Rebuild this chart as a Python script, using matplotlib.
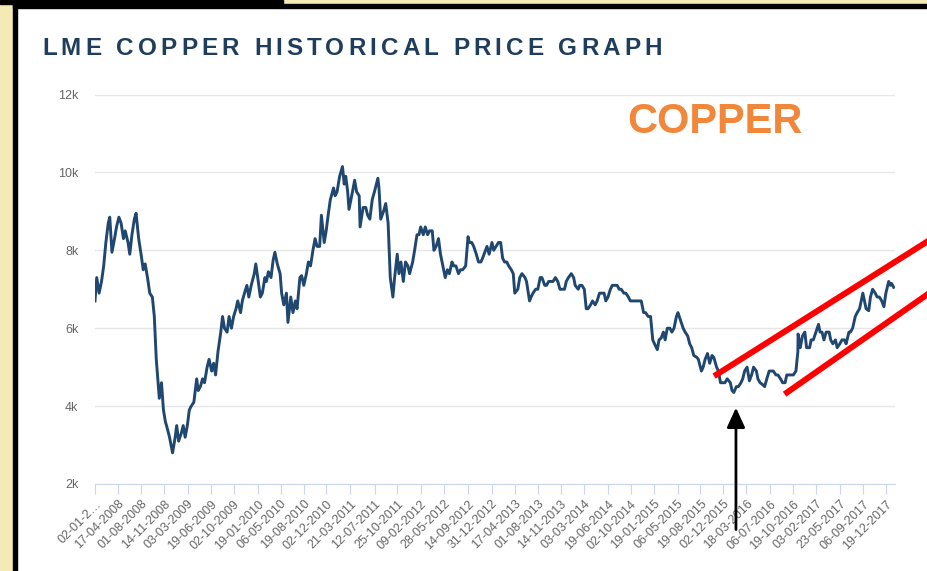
import pandas as pd
import matplotlib.pyplot as plt
from matplotlib.patches import Rectangle
from matplotlib.font_manager import FontProperties

plt.rcParams["font.family"] = ["Liberation Sans", "DejaVu Sans"]

# LME copper, USD/t (about three readings per month)
dates = [
    "2008-01-02", "2008-01-10", "2008-01-21", "2008-02-01", "2008-02-11", "2008-02-21", "2008-03-03", "2008-03-10", "2008-03-20",
    "2008-04-01", "2008-04-10", "2008-04-21", "2008-05-01", "2008-05-12", "2008-05-20", "2008-06-02", "2008-06-10", "2008-06-20",
    "2008-07-01", "2008-07-09", "2008-07-21", "2008-08-01", "2008-08-11", "2008-08-20", "2008-09-01", "2008-09-10", "2008-09-22",
    "2008-10-01", "2008-10-10", "2008-10-24", "2008-11-03", "2008-11-12", "2008-11-21", "2008-12-01", "2008-12-10", "2008-12-24",
    "2009-01-05", "2009-01-12", "2009-01-21", "2009-02-02", "2009-02-11", "2009-02-20", "2009-03-02", "2009-03-11", "2009-03-20",
    "2009-04-01", "2009-04-14", "2009-04-21", "2009-05-01", "2009-05-11", "2009-05-20", "2009-06-01", "2009-06-10", "2009-06-22",
    "2009-07-01", "2009-07-10", "2009-07-21", "2009-08-03", "2009-08-11", "2009-08-20", "2009-09-01", "2009-09-10", "2009-09-21",
    "2009-10-01", "2009-10-12", "2009-10-20", "2009-11-02", "2009-11-10", "2009-11-20", "2009-12-01", "2009-12-10", "2009-12-21",
    "2010-01-04", "2010-01-11", "2010-01-20", "2010-02-01", "2010-02-10", "2010-02-22", "2010-03-01", "2010-03-10", "2010-03-22",
    "2010-04-01", "2010-04-09", "2010-04-20", "2010-05-03", "2010-05-10", "2010-05-20", "2010-06-01", "2010-06-08", "2010-06-21",
    "2010-07-01", "2010-07-12", "2010-07-20", "2010-08-02", "2010-08-10", "2010-08-20", "2010-09-01", "2010-09-10", "2010-09-20",
    "2010-10-01", "2010-10-11", "2010-10-20", "2010-11-01", "2010-11-09", "2010-11-22", "2010-12-01", "2010-12-10", "2010-12-20",
    "2011-01-04", "2011-01-11", "2011-01-20", "2011-02-01", "2011-02-14", "2011-02-22", "2011-03-01", "2011-03-10", "2011-03-16",
    "2011-04-01", "2011-04-11", "2011-04-20", "2011-05-02", "2011-05-06", "2011-05-20", "2011-06-01", "2011-06-10", "2011-06-20",
    "2011-07-01", "2011-07-11", "2011-07-27", "2011-08-01", "2011-08-09", "2011-08-22", "2011-09-01", "2011-09-12", "2011-09-22",
    "2011-10-04", "2011-10-12", "2011-10-24", "2011-11-01", "2011-11-10", "2011-11-21", "2011-12-01", "2011-12-12", "2011-12-20",
    "2012-01-03", "2012-01-12", "2012-01-23", "2012-02-01", "2012-02-09", "2012-02-21", "2012-03-01", "2012-03-12", "2012-03-21",
    "2012-04-02", "2012-04-10", "2012-04-20", "2012-05-01", "2012-05-10", "2012-05-21", "2012-06-01", "2012-06-11", "2012-06-20",
    "2012-07-02", "2012-07-10", "2012-07-20", "2012-08-01", "2012-08-10", "2012-08-20", "2012-09-03", "2012-09-14", "2012-09-20",
    "2012-10-01", "2012-10-10", "2012-10-22", "2012-11-01", "2012-11-12", "2012-11-20", "2012-12-03", "2012-12-10", "2012-12-20",
    "2013-01-02", "2013-01-10", "2013-01-21", "2013-02-01", "2013-02-11", "2013-02-20", "2013-03-01", "2013-03-11", "2013-03-20",
    "2013-04-01", "2013-04-10", "2013-04-17", "2013-05-01", "2013-05-10", "2013-05-20", "2013-06-03", "2013-06-10", "2013-06-24",
    "2013-07-01", "2013-07-10", "2013-07-22", "2013-08-01", "2013-08-12", "2013-08-20", "2013-09-02", "2013-09-10", "2013-09-20",
    "2013-10-01", "2013-10-10", "2013-10-21", "2013-11-01", "2013-11-11", "2013-11-20", "2013-12-02", "2013-12-10", "2013-12-20",
    "2014-01-02", "2014-01-13", "2014-01-20", "2014-02-03", "2014-02-10", "2014-02-20", "2014-03-03", "2014-03-12", "2014-03-20",
    "2014-04-01", "2014-04-10", "2014-04-22", "2014-05-01", "2014-05-12", "2014-05-20", "2014-06-02", "2014-06-10", "2014-06-20",
    "2014-07-01", "2014-07-10", "2014-07-21", "2014-08-01", "2014-08-11", "2014-08-20", "2014-09-01", "2014-09-10", "2014-09-22",
    "2014-10-01", "2014-10-10", "2014-10-20", "2014-11-03", "2014-11-10", "2014-11-20", "2014-12-01", "2014-12-10", "2014-12-22",
    "2015-01-02", "2015-01-12", "2015-01-20", "2015-02-02", "2015-02-10", "2015-02-20", "2015-03-02", "2015-03-10", "2015-03-20",
    "2015-04-01", "2015-04-10", "2015-04-20", "2015-05-01", "2015-05-08", "2015-05-20", "2015-06-01", "2015-06-10", "2015-06-22",
    "2015-07-01", "2015-07-10", "2015-07-20", "2015-08-03", "2015-08-10", "2015-08-24", "2015-09-01", "2015-09-10", "2015-09-21",
    "2015-10-01", "2015-10-12", "2015-10-20", "2015-11-02", "2015-11-10", "2015-11-20", "2015-12-01", "2015-12-10", "2015-12-21",
    "2016-01-04", "2016-01-12", "2016-01-20", "2016-02-01", "2016-02-10", "2016-02-22", "2016-03-01", "2016-03-10", "2016-03-21",
    "2016-04-01", "2016-04-11", "2016-04-20", "2016-05-03", "2016-05-10", "2016-05-20", "2016-06-01", "2016-06-10", "2016-06-20",
    "2016-07-01", "2016-07-11", "2016-07-20", "2016-08-01", "2016-08-10", "2016-08-22", "2016-09-01", "2016-09-12", "2016-09-20",
    "2016-10-03", "2016-10-10", "2016-10-20", "2016-11-01", "2016-11-10", "2016-11-11", "2016-11-21", "2016-12-01", "2016-12-12",
    "2016-12-20",
    "2017-01-03", "2017-01-10", "2017-01-20", "2017-02-01", "2017-02-13", "2017-02-20", "2017-03-01", "2017-03-10", "2017-03-20",
    "2017-04-03", "2017-04-10", "2017-04-20", "2017-05-02", "2017-05-10", "2017-05-22", "2017-06-01", "2017-06-12", "2017-06-20",
    "2017-07-03", "2017-07-10", "2017-07-20", "2017-08-01", "2017-08-10", "2017-08-21", "2017-09-01", "2017-09-05", "2017-09-20",
    "2017-10-02", "2017-10-10", "2017-10-20", "2017-11-01", "2017-11-10", "2017-11-20", "2017-12-01", "2017-12-11", "2017-12-20",
    "2018-01-02", "2018-01-10", "2018-01-15", "2018-01-25",
]
prices = [
    6700, 7300, 6900, 7200, 7600, 8200, 8700, 8850, 7950,
    8300, 8600, 8850, 8700, 8300, 8500, 8200, 7900, 8400,
    8800, 8950, 8300, 7900, 7500, 7650, 7250, 6900, 6800,
    6300, 5200, 4200, 4600, 3900, 3600, 3400, 3200, 2800,
    3200, 3500, 3100, 3300, 3500, 3200, 3500, 3900, 4000,
    4100, 4700, 4400, 4500, 4700, 4600, 5000, 5200, 4900,
    5100, 4800, 5400, 5900, 6300, 6000, 5900, 6300, 6000,
    6300, 6500, 6700, 6400, 6700, 6900, 7100, 6800, 7100,
    7400, 7650, 7300, 6800, 6900, 7300, 7200, 7450, 7300,
    7750, 7950, 7650, 7400, 6900, 6600, 6900, 6150, 6800,
    6400, 6700, 6500, 7300, 7350, 7100, 7400, 7700, 7600,
    8000, 8300, 8100, 8100, 8900, 8200, 8500, 8900, 9300,
    9600, 9400, 9500, 9900, 10150, 9700, 9900, 9500, 9050,
    9500, 9800, 9500, 9400, 8600, 9100, 9100, 8900, 8800,
    9300, 9500, 9850, 9600, 8800, 9000, 9200, 8700, 7300,
    6800, 7300, 7900, 7400, 7700, 7200, 7700, 7600, 7400,
    7700, 8000, 8400, 8400, 8600, 8400, 8600, 8400, 8500,
    8500, 8000, 8100, 8300, 7900, 7600, 7300, 7500, 7400,
    7700, 7600, 7600, 7400, 7500, 7500, 7600, 8350, 8200,
    8200, 8100, 7900, 7700, 7700, 7800, 8000, 8100, 7900,
    8200, 8000, 8100, 8200, 8200, 7800, 7700, 7700, 7600,
    7500, 7400, 6900, 7000, 7300, 7400, 7300, 7200, 6700,
    6800, 6900, 7000, 7000, 7300, 7300, 7100, 7100, 7200,
    7200, 7200, 7300, 7200, 7000, 7000, 7000, 7200, 7300,
    7400, 7300, 7100, 7000, 7100, 7100, 7000, 6500, 6500,
    6600, 6700, 6600, 6700, 6900, 6900, 6900, 6700, 6800,
    7000, 7100, 7100, 7100, 7000, 7000, 6900, 6900, 6800,
    6700, 6700, 6700, 6700, 6700, 6700, 6400, 6400, 6300,
    6300, 5700, 5600, 5450, 5700, 5750, 5900, 5700, 6000,
    6000, 5900, 6000, 6300, 6400, 6200, 6000, 5900, 5800,
    5600, 5500, 5300, 5250, 5200, 4900, 5000, 5200, 5350,
    5100, 5300, 5250, 5000, 4900, 4600, 4600, 4600, 4700,
    4600, 4400, 4350, 4500, 4500, 4600, 4700, 4900, 5000,
    4650, 4800, 5000, 4900, 4700, 4600, 4550, 4500, 4700,
    4900, 4900, 4900, 4800, 4800, 4700, 4600, 4600, 4800,
    4800, 4800, 4800, 4900, 5400, 5850, 5500, 5800, 5900,
    5500,
    5500, 5700, 5700, 5900, 6100, 5900, 5900, 5700, 5900,
    5900, 5700, 5600, 5700, 5500, 5600, 5700, 5700, 5600,
    5900, 5900, 6000, 6300, 6400, 6500, 6800, 6900, 6500,
    6450, 6800, 7000, 6900, 6800, 6800, 6700, 6550, 6900,
    7200, 7100, 7150, 7050,
]

tick_dates = [
    "02-01-2008", "17-04-2008", "01-08-2008", "14-11-2008", "03-03-2009", "19-06-2009", "02-10-2009",
    "19-01-2010", "06-05-2010", "19-08-2010", "02-12-2010", "21-03-2011", "12-07-2011", "25-10-2011",
    "09-02-2012", "28-05-2012", "14-09-2012", "31-12-2012", "17-04-2013", "01-08-2013", "14-11-2013",
    "03-03-2014", "19-06-2014", "02-10-2014", "19-01-2015", "06-05-2015", "19-08-2015", "02-12-2015",
    "18-03-2016", "06-07-2016", "19-10-2016", "03-02-2017", "23-05-2017", "06-09-2017", "19-12-2017",
]
tick_labels = ["02-01-2…"] + tick_dates[1:]
y_ticks = [2000, 4000, 6000, 8000, 10000, 12000]
y_labels = ["2k", "4k", "6k", "8k", "10k", "12k"]

# hand-drawn channel and arrow on top of the chart
upper_dates = ["2015-11-02", "2018-06-27"]
upper_vals = [4810, 8220]
lower_dates = ["2016-09-21", "2018-06-27"]
lower_vals = [4350, 6860]
arrow_date = "2016-01-30"
arrow_tip, arrow_tail = 3960, 830

W, H = 927, 571
fig = plt.figure(figsize=(W / 100, H / 100), dpi=100, facecolor="#f3eab6")


def box(x0, y0, x1, y1, color):
    # rectangle given in screenshot pixels
    fig.add_artist(Rectangle((x0 / W, 1 - y1 / H), (x1 - x0) / W, (y1 - y0) / H,
                             transform=fig.transFigure, color=color, zorder=-1))


box(17, 8, W, H, "white")
box(0, 0, 283, 4, "black")
box(13, 4, W, 8, "black")
box(13, 4, 17, H, "black")

# letter-spaced title
fp = FontProperties(family="Liberation Sans", weight="bold", size=17.5)
r = fig.canvas.get_renderer()
title = "LME COPPER HISTORICAL PRICE GRAPH"


def tw(s):
    return r.get_text_width_height_descent(s, fp, ismath=False)[0]


for i, ch in enumerate(title):
    if ch == " ":
        continue
    left = tw(title[:i + 1]) - tw(ch)
    fig.text((42 + left + i * 4.1) / W, 1 - 55 / H, ch, fontproperties=fp,
             color="#1f3d5c", va="baseline", ha="left")

fig.text(627 / W, 1 - 133 / H, "COPPER", family="Liberation Sans", weight="bold",
         size=30, color="#f0873a", va="baseline")

ax = fig.add_axes([95 / W, 1 - 484 / H, 800 / W, (484 - 94.5) / H])
ax.set_facecolor("none")
ax.plot(pd.to_datetime(dates), prices, color="#20476f", lw=2.1)

ax.set_xlim(pd.Timestamp("2008-01-02"), pd.Timestamp("2018-01-31"))
ax.set_ylim(2000, 12000)
ax.set_yticks(y_ticks, y_labels)
ax.set_xticks(pd.to_datetime(tick_dates, format="%d-%m-%Y"), tick_labels,
              rotation=45, ha="right", rotation_mode="anchor")

ax.grid(axis="y", color="#e6e6e6", lw=1)
ax.set_axisbelow(True)
for s in ["top", "right", "left"]:
    ax.spines[s].set_visible(False)
ax.spines["bottom"].set_color("#ccd6eb")
ax.tick_params(axis="y", length=0, pad=12, labelsize=9, labelcolor="#666666")
ax.tick_params(axis="x", length=7, width=0.8, color="#ccd6eb", pad=3,
               labelsize=9, labelcolor="#666666")

ax.plot(pd.to_datetime(upper_dates), upper_vals, color="#ff0000", lw=4.3, clip_on=False)
ax.plot(pd.to_datetime(lower_dates), lower_vals, color="#ff0000", lw=4.3, clip_on=False)
ax.annotate("", xy=(pd.Timestamp(arrow_date), arrow_tip), xytext=(pd.Timestamp(arrow_date), arrow_tail),
            arrowprops=dict(arrowstyle="-|>,head_length=1.2,head_width=0.55", color="black",
                            lw=2, shrinkA=0, shrinkB=0, mutation_scale=10),
            annotation_clip=False)

fig.savefig("out.png", dpi=100, facecolor=fig.get_facecolor())
